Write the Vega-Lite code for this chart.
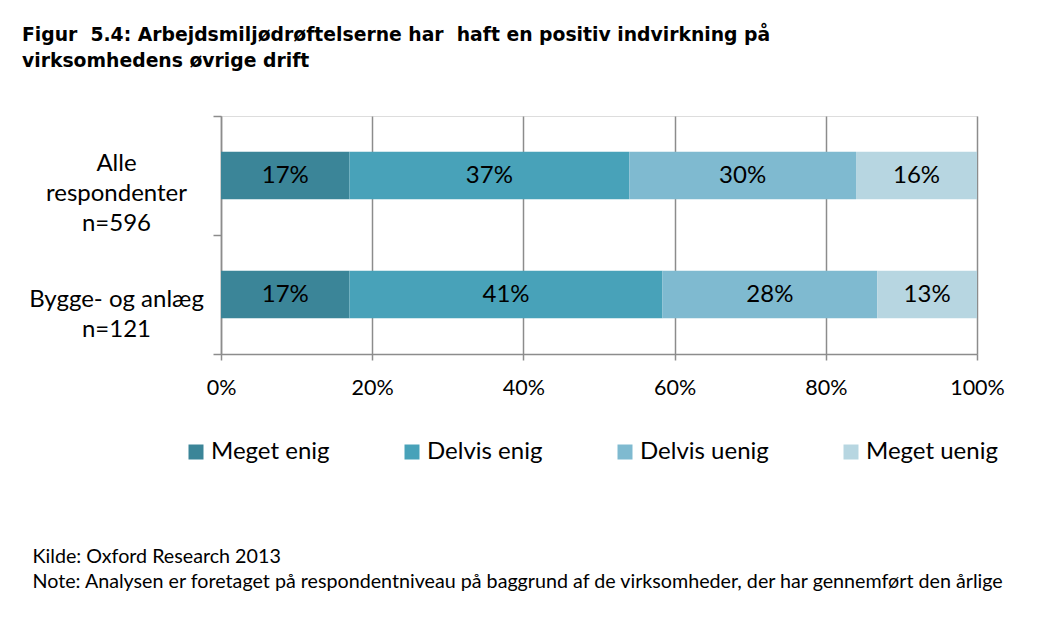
{
  "$schema": "https://vega.github.io/schema/vega-lite/v6.json",
  "width": 756,
  "height": 238,
  "autosize": {"type": "none"},
  "padding": {"left": 221, "top": 116, "right": 70, "bottom": 267},
  "background": "white",
  "title": {
    "text": ["Figur \u00a05.4: Arbejdsmiljødrøftelserne har \u00a0haft en positiv indvirkning på", "virksomhedens øvrige drift"],
    "anchor": "start",
    "frame": "group",
    "dx": -199,
    "offset": 33,
    "font": "DejaVu Sans",
    "fontSize": 18.8,
    "fontWeight": "bold",
    "color": "black",
    "lineHeight": 26
  },
  "data": {
    "values": [
      {"category": "Alle respondenter", "response": "Meget enig", "rank": 1, "value": 0.17},
      {"category": "Alle respondenter", "response": "Delvis enig", "rank": 2, "value": 0.37},
      {"category": "Alle respondenter", "response": "Delvis uenig", "rank": 3, "value": 0.30},
      {"category": "Alle respondenter", "response": "Meget uenig", "rank": 4, "value": 0.16},
      {"category": "Bygge- og anlæg", "response": "Meget enig", "rank": 1, "value": 0.17},
      {"category": "Bygge- og anlæg", "response": "Delvis enig", "rank": 2, "value": 0.414},
      {"category": "Bygge- og anlæg", "response": "Delvis uenig", "rank": 3, "value": 0.284},
      {"category": "Bygge- og anlæg", "response": "Meget uenig", "rank": 4, "value": 0.132}
    ]
  },
  "transform": [
    {"stack": "value", "groupby": ["category"], "sort": [{"field": "rank", "order": "ascending"}], "as": ["x0", "x1"]},
    {"calculate": "(datum.x0 + datum.x1) / 2", "as": "xmid"}
  ],
  "encoding": {
    "y": {
      "field": "category",
      "type": "nominal",
      "sort": ["Alle respondenter", "Bygge- og anlæg"],
      "scale": {"paddingInner": 0, "paddingOuter": 0},
      "axis": {
        "title": null,
        "domain": true,
        "domainColor": "#8c8c8c",
        "domainWidth": 1.5,
        "ticks": true,
        "tickBand": "extent",
        "tickSize": 8,
        "tickColor": "#8c8c8c",
        "tickWidth": 1.5,
        "labelExpr": "datum.value == 'Alle respondenter' ? ['Alle', 'respondenter', 'n=596'] : (datum.value == 'Bygge- og anlæg' ? ['Bygge- og anlæg', 'n=121'] : '')",
        "labelAlign": "center",
        "labelBaseline": "middle",
        "labelPadding": 97,
        "labelOffset": {"condition": {"test": "datum.value == 'Alle respondenter'", "value": -12}, "value": 5},
        "labelLineHeight": 30,
        "labelFont": "Lato",
        "labelFontSize": 24,
        "labelColor": "black",
        "labelLimit": 0,
        "grid": false
      }
    }
  },
  "layer": [
    {
      "mark": {"type": "bar", "height": {"band": 0.4}},
      "encoding": {
        "x": {
          "field": "x0",
          "type": "quantitative",
          "scale": {"domain": [0, 1], "nice": false},
          "axis": {
            "values": [0, 0.2, 0.4, 0.6, 0.8, 1],
            "format": ".0%",
            "grid": true,
            "gridColor": "#8c8c8c",
            "gridWidth": 1.5,
            "domainColor": "#8c8c8c",
            "domainWidth": 1.5,
            "tickColor": "#8c8c8c",
            "tickWidth": 1.5,
            "tickSize": 6,
            "labelPadding": 17,
            "labelFont": "Lato",
            "labelFontSize": 21.5,
            "labelColor": "black",
            "labelFlush": false,
            "title": ["Kilde: Oxford Research 2013", "Note: Analysen er foretaget på respondentniveau på baggrund af de virksomheder, der har gennemført den årlige"],
            "titleX": -189,
            "titleY": 192,
            "titleAlign": "left",
            "titleAnchor": "start",
            "titleBaseline": "top",
            "titleFont": "Lato",
            "titleFontSize": 19.7,
            "titleFontWeight": "normal",
            "titleLineHeight": 25,
            "titleColor": "black",
            "titleLimit": 2000
          }
        },
        "x2": {"field": "x1"},
        "color": {
          "field": "response",
          "type": "nominal",
          "scale": {
            "domain": ["Meget enig", "Delvis enig", "Delvis uenig", "Meget uenig"],
            "range": ["#3b8598", "#48a2b9", "#7fbad0", "#b7d6e1"]
          },
          "legend": {
            "title": null,
            "orient": "none",
            "legendX": -37,
            "legendY": 324,
            "direction": "horizontal",
            "columns": 4,
            "columnPadding": 70,
            "padding": 0,
            "symbolType": "square",
            "symbolSize": 225,
            "symbolStrokeWidth": 0,
            "labelOffset": 3,
            "labelFont": "Lato",
            "labelFontSize": 24,
            "labelColor": "black",
            "labelLimit": 0
          }
        }
      }
    },
    {
      "mark": {"type": "text", "font": "Lato", "fontSize": 24, "color": "black", "align": "center", "baseline": "middle"},
      "encoding": {
        "x": {"field": "xmid", "type": "quantitative"},
        "text": {"field": "value", "type": "quantitative", "format": ".0%"}
      }
    }
  ]
}
